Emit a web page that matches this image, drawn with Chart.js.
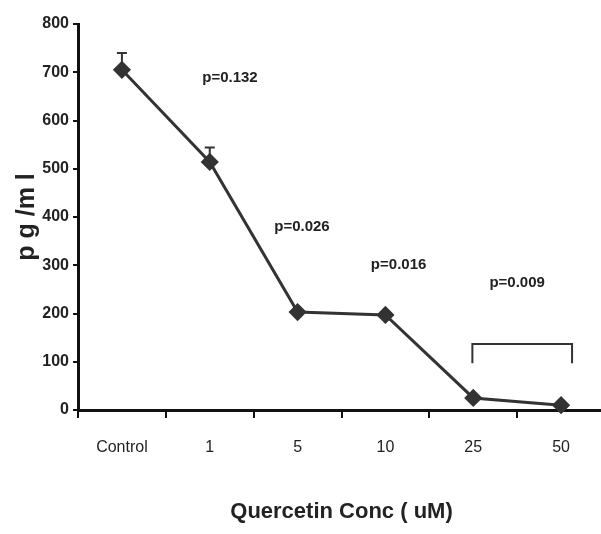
<!DOCTYPE html>
<html>
<head>
<meta charset="utf-8">
<script src="https://cdn.jsdelivr.net/npm/chart.js@4/dist/chart.umd.min.js"></script>
<style>
html,body{margin:0;padding:0;background:#fff;overflow:hidden;}
canvas{display:block;}
</style>
</head>
<body>
<canvas id="c" width="605" height="534"></canvas>
<script>
// ---- data ----
const categories = ["Control", "1", "5", "10", "25", "50"];
const meanValues = [705, 514, 203, 197, 25, 10];
const errorUpper = [35, 30, 0, 0, 0, 0];
const yTicks = [0, 100, 200, 300, 400, 500, 600, 700, 800];
const pLabels = ["p=0.132", "p=0.026", "p=0.016", "p=0.009"];
const pLabelX = [1.23, 2.05, 3.15, 4.5];     // category index position
const pLabelY = [688, 379, 300, 263];         // value position
const bracketX = [3.99, 5.125];               // from / to (category index)
const bracketY = [137, 97];                   // top / bottom of legs (value)

const SANS = "'Liberation Sans', Arial, sans-serif";
const INK = '#222';

const whiteBg = {
  id: 'whiteBg',
  beforeDraw(chart) {
    const ctx = chart.ctx;
    ctx.save();
    ctx.fillStyle = '#fff';
    ctx.fillRect(0, 0, chart.width, chart.height);
    ctx.restore();
  }
};

function xPos(scale, idx) {
  const i0 = Math.floor(idx);
  const p0 = scale.getPixelForValue(i0);
  const p1 = scale.getPixelForValue(i0 + 1);
  return p0 + (p1 - p0) * (idx - i0);
}

const extras = {
  id: 'extras',
  afterDatasetsDraw(chart) {
    const ctx = chart.ctx;
    const xs = chart.scales.x, ys = chart.scales.y;
    ctx.save();
    // error bars
    ctx.strokeStyle = '#333';
    ctx.lineWidth = 2;
    errorUpper.forEach((e, i) => {
      if (!e) return;
      const x = xs.getPixelForValue(i);
      const yTop = ys.getPixelForValue(meanValues[i] + e);
      const yMid = ys.getPixelForValue(meanValues[i]);
      ctx.beginPath();
      ctx.moveTo(x, yMid);
      ctx.lineTo(x, yTop);
      ctx.moveTo(x - 5, yTop);
      ctx.lineTo(x + 5, yTop);
      ctx.stroke();
    });
    // p labels
    ctx.fillStyle = INK;
    ctx.font = "bold 15px " + SANS;
    ctx.textAlign = 'center';
    ctx.textBaseline = 'middle';
    pLabels.forEach((t, i) => {
      ctx.fillText(t, xPos(xs, pLabelX[i]), ys.getPixelForValue(pLabelY[i]));
    });
    // bracket
    const bx0 = xPos(xs, bracketX[0]), bx1 = xPos(xs, bracketX[1]);
    const byT = ys.getPixelForValue(bracketY[0]), byB = ys.getPixelForValue(bracketY[1]);
    ctx.strokeStyle = '#333';
    ctx.lineWidth = 2;
    ctx.beginPath();
    ctx.moveTo(bx0, byB);
    ctx.lineTo(bx0, byT);
    ctx.lineTo(bx1, byT);
    ctx.lineTo(bx1, byB);
    ctx.stroke();
    ctx.restore();
  }
};

new Chart(document.getElementById('c'), {
  type: 'line',
  data: {
    labels: categories,
    datasets: [{
      data: meanValues,
      borderColor: '#333',
      borderWidth: 3,
      backgroundColor: '#333',
      pointStyle: 'rectRot',
      pointRadius: 7,
      pointBackgroundColor: '#333',
      pointBorderColor: '#333',
      tension: 0,
      fill: false,
      clip: false
    }]
  },
  options: {
    responsive: false,
    animation: false,
    events: [],
    layout: { autoPadding: false, padding: { top: 24, right: 0, bottom: 0, left: 0 } },
    plugins: { legend: { display: false }, tooltip: { enabled: false } },
    scales: {
      x: {
        type: 'category',
        offset: true,
        border: { display: true, color: '#111', width: 3 },
        grid: { offset: true, drawOnChartArea: false, drawTicks: true, tickLength: 8, color: '#111', lineWidth: 2 },
        ticks: { color: INK, font: { family: SANS, size: 16 }, padding: 20, maxRotation: 0, autoSkip: false },
        title: { display: true, text: 'Quercetin Conc ( uM)', color: INK, font: { family: SANS, size: 22, weight: 'bold' }, padding: { top: 0, bottom: 9 } },
        afterFit(scale) { scale.height = 124; }
      },
      y: {
        min: 0, max: 800,
        border: { display: true, color: '#111', width: 3 },
        grid: { drawOnChartArea: false, drawTicks: true, tickLength: 5, color: '#111', lineWidth: 2 },
        afterBuildTicks(scale) { scale.ticks = yTicks.map(v => ({ value: v })); },
        ticks: { color: INK, font: { family: SANS, size: 16, weight: 'bold' }, padding: 4 },
        title: { display: true, text: 'p g /m l', color: INK, font: { family: SANS, size: 25, weight: 'bold' }, padding: { top: 12, bottom: 0 } },
        afterFit(scale) { scale.width = 78; }
      }
    }
  },
  plugins: [whiteBg, extras]
});
</script>
</body>
</html>
